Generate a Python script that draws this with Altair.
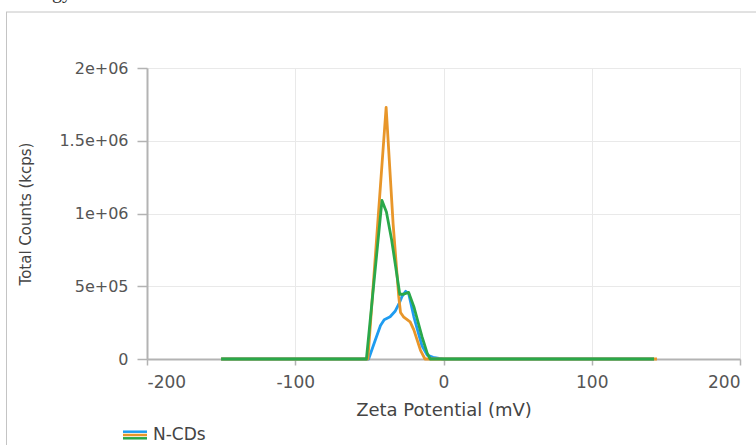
import altair as alt
import pandas as pd

# ---- data ----
blue_x = [-150, -50.5, -46, -42.5, -40, -36, -32.5, -30, -28, -25.5, -23.5, -20, -14.5, -11, -7, -3, 0, 142]
blue_y = [0, 0, 1.3e5, 2.3e5, 2.7e5, 2.9e5, 3.3e5, 3.8e5, 4.3e5, 4.65e5, 4.5e5, 2.9e5, 9e4, 2.7e4, 1.2e4, 4e3, 0, 0]
orange_x = [-150, -51, -38.7, -34, -30.2, -29, -27, -22.5, -20, -15.5, -12.5, 144]
orange_y = [0, 0, 1.73e6, 9.3e5, 4.3e5, 3.2e5, 2.9e5, 2.55e5, 2.0e5, 6e4, 0, 0]
green_x = [-150, -52, -41.5, -38.5, -35, -29.5, -27, -23.5, -20, -14.5, -11, -9, 142]
green_y = [0, 0, 1.09e6, 1.01e6, 8.2e5, 4.45e5, 4.45e5, 4.58e5, 3.6e5, 1.53e5, 4e4, 0, 0]

x_ticks = [-200, -100, 0, 100, 200]
y_ticks = [0, 500000, 1000000, 1500000, 2000000]
y_tick_labels = ["0", "5e+05", "1e+06", "1.5e+06", "2e+06"]
legend_label = "N-CDs"
x_title = "Zeta Potential (mV)"
y_title = "Total Counts (kcps)"
cut_text = "Energy"

colors = {"blue": "#1f9cf0", "orange": "#e8962a", "green": "#2aa84a"}

FONT = "DejaVu Sans"
W, H = 593, 291

# label expression for y ticks
expr = "''"
for v, lab in zip(reversed(y_ticks), reversed(y_tick_labels)):
    expr = f"datum.value == {v} ? '{lab}' : ({expr})"

xs = alt.Scale(domain=[-200, 200], nice=False, zero=False)
ys = alt.Scale(domain=[0, 2000000], nice=False)

x_axis = alt.Axis(
    values=x_ticks, labelExpr="'' + datum.value", title=x_title,
    grid=True, gridColor="#e9e9e9", gridWidth=1,
    domainColor="#b3b3b3", domainWidth=2, tickColor="#b3b3b3", tickWidth=1.5,
    tickSize=6, labelPadding=9, labelFont=FONT, labelFontSize=17, labelColor="#555555",
    titleFont=FONT, titleFontSize=18, titleColor="#444444", titleFontWeight="normal",
    titleY=51, titleBaseline="middle",
)
y_axis = alt.Axis(
    values=y_ticks, labelExpr=expr, title=y_title,
    grid=True, gridColor="#e9e9e9", gridWidth=1,
    domainColor="#b3b3b3", domainWidth=2, tickColor="#b3b3b3", tickWidth=1.5,
    tickSize=10, labelPadding=9, labelFont=FONT, labelFontSize=16, labelColor="#555555",
    titleFont=FONT, titleFontSize=15, titleColor="#444444", titleFontWeight="normal",
    titleX=-122, titleY=H / 2, titleBaseline="middle", titleAlign="center",
)

frames = []
for name, xv, yv in [("blue", blue_x, blue_y), ("orange", orange_x, orange_y), ("green", green_x, green_y)]:
    frames.append(pd.DataFrame({"x": xv, "y": yv, "s": name}))
data = pd.concat(frames, ignore_index=True)

base = alt.Chart(data).encode(
    x=alt.X("x:Q", scale=xs, axis=x_axis),
    y=alt.Y("y:Q", scale=ys, axis=y_axis),
)


def series(name):
    return base.transform_filter(alt.datum.s == name).mark_line(
        color=colors[name], strokeWidth=2.8, strokeJoin="round")


blue = series("blue")
orange = series("orange")
green = series("green")

one = alt.Data(values=[{}])

# frame lines of the figure panel
frame_top = alt.Chart(one).mark_rule(color="#c4c4c4", strokeWidth=1).encode(
    x=alt.value(-141), x2=alt.value(612), y=alt.value(-56), y2=alt.value(-56))
frame_left = alt.Chart(one).mark_rule(color="#c4c4c4", strokeWidth=1).encode(
    x=alt.value(-140.5), x2=alt.value(-140.5), y=alt.value(-56), y2=alt.value(380))

# partially visible text at the top edge
cut = alt.Chart(one).mark_text(font="Liberation Serif", fontSize=20, align="right",
                               baseline="alphabetic", color="#333333").encode(
    x=alt.value(-75), y=alt.value(-70.5), text=alt.value(cut_text))

# legend: three stacked coloured strokes + label
leg_lines = []
for i, c in enumerate(["blue", "orange", "green"]):
    yy = 363.7 + i * 3.3
    leg_lines.append(alt.Chart(one).mark_rule(color=colors[c], strokeWidth=2.5).encode(
        x=alt.value(-24), x2=alt.value(0), y=alt.value(yy), y2=alt.value(yy)))
leg_text = alt.Chart(one).mark_text(font=FONT, fontSize=17, align="left", baseline="middle",
                                    color="#444444").encode(
    x=alt.value(6), y=alt.value(366.5), text=alt.value(legend_label))

chart = alt.layer(blue, orange, green, frame_top, frame_left, cut, *leg_lines, leg_text).properties(
    width=W, height=H,
    autosize=alt.AutoSizeParams(type="none"),
    padding={"left": 147, "top": 68, "right": 16, "bottom": 86},
).configure_view(stroke=None).configure(background="white")

chart.save("out.html", embed_options={"renderer": "svg", "actions": False})
